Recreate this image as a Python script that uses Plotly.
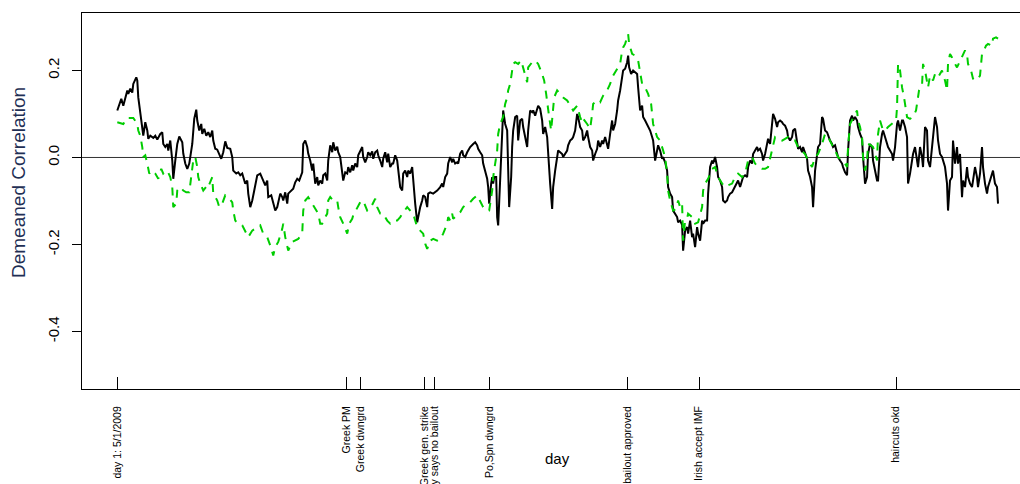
import plotly.graph_objects as go

# Day index (day 1 = 5/1/2009) and demeaned correlation of the two series
black_day = [1, 3, 5, 7, 9, 11, 12, 14, 16, 17, 20, 21, 22, 24, 26, 27, 29, 31, 32, 34,
             37, 39, 41, 44, 46, 47, 49, 51, 52, 54, 56, 57, 59, 61, 63, 66, 67, 69, 71, 73,
             76, 78, 80, 81, 83, 85, 86, 88, 90, 92, 94, 96, 97, 99, 101, 103, 105, 107, 109, 111,
             114, 116, 117, 120, 122, 124, 126, 127, 129, 131, 132, 134, 136, 138, 140, 141, 144, 147, 149, 151,
             152, 155, 157, 159, 161, 163, 164, 166, 167, 169, 171, 172, 175, 177, 179, 181, 183, 184, 186, 187,
             189, 191, 192, 194, 196, 197, 199, 201, 202, 204, 206, 207, 209, 211, 212, 214, 216, 217, 219, 221,
             222, 224, 226, 227, 229, 231, 232, 234, 236, 237, 239, 241, 242, 244, 246, 247, 249, 251, 252, 254,
             256, 257, 259, 261, 262, 264, 266, 267, 269, 271, 272, 274, 276, 277, 279, 281, 282, 284, 286, 287,
             289, 291, 292, 294, 296, 297, 299, 301, 302, 304, 306, 307, 309, 311, 312, 314, 317, 321, 324, 326,
             327, 329, 331, 332, 334, 336, 337, 339, 341, 342, 344, 346, 347, 349, 351, 354, 357, 359, 361, 362,
             364, 366, 367, 369, 371, 372, 373, 375, 376, 377, 378, 380, 381, 382, 383, 385, 386, 387, 389, 391,
             393, 395, 396, 397, 399, 401, 402, 404, 406, 407, 409, 411, 412, 414, 416, 417, 419, 421, 422, 424,
             426, 427, 429, 431, 432, 434, 436, 437, 439, 441, 442, 444, 446, 447, 449, 451, 452, 454, 456, 457,
             459, 461, 462, 464, 466, 467, 469, 471, 472, 474, 476, 477, 479, 481, 482, 484, 486, 487, 489, 491,
             492, 494, 496, 497, 499, 501, 502, 504, 506, 507, 509, 511, 512, 513, 515, 517, 519, 521, 522, 524,
             526, 527, 529, 531, 532, 534, 536, 537, 539, 541, 542, 544, 546, 547, 549, 551, 552, 554, 556, 557,
             559, 561, 562, 564, 566, 567, 569, 571, 572, 574, 576, 577, 579, 581, 582, 584, 586, 587, 589, 591,
             592, 594, 596, 597, 599, 601, 602, 604, 606, 607, 609, 611, 612, 614, 616, 617, 619, 621, 622, 624,
             626, 627, 629, 631, 632, 634, 636, 637, 639, 641, 642, 644, 646, 647, 649, 651, 652, 654, 656, 657,
             659, 661, 662, 664, 666, 667, 669, 671, 672, 674, 676, 677, 679, 681, 682, 684, 686, 687, 689, 691,
             692, 694, 696, 697, 699, 701, 702, 704, 706, 707, 709, 711, 712, 714, 716, 717, 719, 721, 722, 724,
             726, 727, 729, 731, 732, 734, 736, 737, 739, 741, 742, 744, 746, 747, 749, 751, 752, 754, 756, 757,
             759, 761, 762, 764, 766, 767, 769, 771, 772, 774, 776, 777, 779, 781, 782, 784, 786, 787, 789, 791,
             792, 794, 796, 797, 799, 801, 802, 804, 806, 807, 809, 811, 812, 814, 816, 817, 819, 821, 822, 824,
             826, 827, 829, 831, 832, 834, 836, 837, 839, 841, 842, 844, 846, 847, 849, 851, 852, 854, 856, 857,
             859, 861, 862, 864, 866, 867, 869, 871, 872, 874, 876, 877, 879, 881, 882]
black_corr = [0.108, 0.123, 0.135, 0.119, 0.138, 0.154, 0.146, 0.158, 0.149, 0.169, 0.184, 0.177, 0.138, 0.100, 0.070, 0.050, 0.081, 0.062, 0.043, 0.050,
              0.045, 0.050, 0.041, 0.054, 0.058, 0.031, 0.024, 0.031, 0.016, 0.039, -0.007, -0.049, -0.007, 0.031, 0.048, 0.035, 0.009, -0.014, -0.026, -0.014,
              0.031, 0.089, 0.110, 0.085, 0.062, 0.077, 0.054, 0.066, 0.050, 0.058, 0.047, 0.062, 0.039, 0.020, 0.018, 0.005, -0.003, 0.012, 0.037, 0.022,
              0.020, 0.001, -0.030, -0.037, -0.034, -0.041, -0.037, -0.045, -0.060, -0.053, -0.083, -0.114, -0.099, -0.076, -0.057, -0.041, -0.037, -0.053, -0.064, -0.053,
              -0.091, -0.087, -0.106, -0.122, -0.114, -0.091, -0.083, -0.091, -0.099, -0.080, -0.106, -0.083, -0.076, -0.072, -0.057, -0.049, -0.053, -0.045, -0.034, 0.031,
              0.039, 0.024, 0.009, -0.007, -0.030, -0.014, -0.060, -0.045, -0.064, -0.053, -0.060, -0.041, -0.037, -0.053, -0.007, 0.028, 0.012, 0.035, 0.016, 0.025,
              0.012, 0.001, -0.037, -0.053, -0.034, -0.037, -0.022, -0.034, -0.018, -0.030, -0.014, -0.022, 0.005, 0.016, 0.024, 0.001, -0.011, 0.001, 0.012, 0.005,
              0.014, -0.003, 0.012, 0.016, 0.005, -0.007, -0.022, -0.003, 0.012, -0.011, 0.009, -0.022, -0.014, -0.014, 0.005, -0.007, -0.030, -0.068, -0.076, -0.037,
              -0.030, -0.045, -0.030, -0.037, -0.022, -0.053, -0.106, -0.149, -0.137, -0.114, -0.099, -0.087, -0.091, -0.114, -0.083, -0.080, -0.083, -0.076, -0.068, -0.060,
              -0.068, -0.045, -0.037, -0.014, 0.001, -0.011, -0.003, -0.014, -0.011, -0.014, 0.009, 0.016, 0.005, 0.001, 0.012, 0.024, 0.031, 0.035, 0.028, 0.020,
              0.012, 0.005, -0.014, -0.030, -0.049, -0.068, -0.106, -0.060, -0.045, -0.060, -0.045, -0.045, -0.137, -0.156, -0.106, -0.014, 0.062, 0.108, 0.077, 0.062,
              -0.114, -0.045, 0.024, 0.062, 0.093, 0.096, 0.039, 0.085, 0.089, 0.070, 0.047, 0.024, 0.062, 0.108, 0.104, 0.108, 0.096, 0.112, 0.119, 0.112,
              0.085, 0.054, 0.070, 0.047, 0.001, -0.060, -0.118, -0.068, -0.030, 0.001, 0.016, 0.012, 0.008, 0.001, 0.008, 0.016, 0.028, 0.039, 0.043, 0.047,
              0.062, 0.100, 0.093, 0.070, 0.062, 0.039, 0.047, 0.062, 0.047, 0.024, 0.016, -0.007, 0.008, 0.020, 0.039, 0.024, 0.039, 0.031, 0.047, 0.031,
              0.020, 0.054, 0.085, 0.062, 0.077, 0.108, 0.131, 0.154, 0.184, 0.200, 0.204, 0.219, 0.234, 0.207, 0.192, 0.200, 0.196, 0.192, 0.161, 0.108,
              0.119, 0.093, 0.085, 0.077, 0.070, 0.062, 0.047, 0.039, -0.007, 0.016, 0.028, 0.016, -0.003, 0.001, -0.011, -0.030, -0.068, -0.083, -0.091, -0.122,
              -0.129, -0.137, -0.149, -0.145, -0.155, -0.214, -0.168, -0.160, -0.175, -0.145, -0.183, -0.175, -0.206, -0.160, -0.175, -0.191, -0.145, -0.152, -0.145, -0.145,
              -0.083, -0.022, -0.007, -0.014, 0.001, -0.022, -0.045, -0.053, -0.068, -0.099, -0.103, -0.099, -0.091, -0.083, -0.080, -0.076, -0.068, -0.060, -0.053, -0.068,
              -0.053, -0.045, -0.041, -0.045, -0.022, -0.007, -0.014, 0.008, 0.016, 0.024, 0.016, 0.020, 0.008, -0.007, 0.008, 0.039, 0.043, 0.031, 0.070, 0.100,
              0.089, 0.070, 0.081, 0.085, 0.081, 0.077, 0.073, 0.062, 0.047, 0.039, 0.047, 0.062, 0.066, 0.035, 0.020, 0.024, 0.012, 0.024, 0.008, -0.003,
              -0.030, -0.045, -0.068, -0.114, -0.030, 0.012, 0.024, 0.031, 0.093, 0.089, 0.062, 0.058, 0.050, 0.039, 0.031, 0.024, 0.028, 0.008, 0.001, -0.007,
              -0.014, -0.022, -0.034, -0.041, 0.016, 0.085, 0.096, 0.085, 0.093, 0.085, 0.070, 0.054, 0.043, 0.001, -0.060, -0.045, 0.008, 0.031, 0.024, -0.007,
              -0.030, -0.053, -0.053, 0.024, 0.054, 0.062, 0.047, 0.031, 0.024, 0.016, 0.008, -0.007, 0.024, 0.077, 0.085, 0.062, 0.085, 0.085, 0.070, 0.047,
              -0.060, -0.037, -0.007, 0.008, 0.024, -0.007, -0.022, 0.024, 0.001, -0.022, 0.070, 0.062, -0.007, -0.022, 0.016, 0.047, 0.093, 0.070, 0.039, 0.008,
              0.001, -0.007, -0.022, -0.060, -0.122, -0.053, -0.045, 0.039, -0.014, 0.024, -0.014, 0.008, -0.091, -0.053, -0.068, -0.022, -0.045, -0.060, -0.068, -0.053,
              -0.022, -0.045, -0.068, -0.037, 0.024, -0.022, -0.060, -0.083, -0.068, -0.053, -0.037, -0.030, -0.060, -0.068, -0.106]

green_day = [1, 7, 11, 17, 21, 22, 24, 26, 27, 29, 31, 33, 36, 39, 42, 45, 47, 51, 54, 56,
             57, 60, 61, 64, 67, 70, 73, 76, 77, 79, 81, 82, 84, 87, 91, 92, 96, 97, 101, 103,
             106, 109, 112, 116, 117, 119, 122, 126, 129, 132, 136, 139, 144, 147, 151, 154, 157, 159, 162, 166,
             167, 169, 172, 176, 179, 182, 186, 187, 189, 192, 196, 199, 202, 204, 206, 209, 211, 212, 214, 217,
             221, 222, 224, 227, 231, 233, 236, 237, 241, 244, 247, 251, 254, 257, 259, 261, 264, 267, 271, 274,
             277, 281, 284, 287, 291, 294, 297, 299, 301, 304, 307, 309, 311, 314, 317, 321, 324, 327, 331, 332,
             334, 336, 337, 341, 344, 347, 351, 354, 357, 361, 364, 367, 371, 373, 376, 377, 379, 381, 382, 384,
             387, 389, 391, 392, 394, 396, 397, 399, 402, 405, 407, 409, 411, 412, 416, 419, 422, 426, 428, 430,
             431, 433, 435, 437, 438, 441, 444, 447, 451, 454, 457, 461, 462, 464, 466, 467, 471, 474, 476, 477,
             481, 484, 487, 491, 494, 496, 499, 502, 504, 506, 507, 509, 511, 512, 513, 516, 519, 522, 526, 529,
             532, 535, 537, 541, 544, 547, 549, 551, 552, 554, 557, 560, 562, 564, 566, 567, 569, 571, 572, 576,
             579, 582, 586, 587, 589, 592, 596, 599, 602, 606, 609, 612, 616, 619, 622, 626, 629, 632, 636, 639,
             642, 646, 649, 652, 655, 657, 659, 662, 666, 669, 672, 676, 679, 682, 686, 689, 692, 696, 699, 702,
             706, 709, 712, 716, 719, 722, 726, 729, 731, 732, 734, 736, 738, 741, 742, 744, 746, 747, 749, 751,
             752, 755, 757, 759, 761, 762, 764, 767, 769, 772, 776, 780, 781, 782, 784, 786, 788, 790, 791, 794,
             797, 800, 801, 803, 806, 807, 809, 811, 812, 814, 817, 819, 822, 826, 827, 829, 831, 832, 834, 836,
             838, 841, 844, 847, 849, 851, 852, 855, 857, 859, 862, 864, 865, 866, 868, 870, 872, 876, 877, 880,
             882]
green_corr = [0.081, 0.077, 0.091, 0.091, 0.077, 0.062, 0.050, 0.024, 0.001, 0.005, -0.014, -0.037, -0.030, -0.037, -0.049, -0.026, -0.037, -0.030, -0.045, -0.068,
              -0.114, -0.106, -0.076, -0.068, -0.076, -0.080, -0.080, -0.030, -0.007, 0.001, -0.022, -0.045, -0.060, -0.076, -0.064, -0.068, -0.045, -0.083, -0.099, -0.114,
              -0.106, -0.087, -0.091, -0.103, -0.122, -0.145, -0.152, -0.156, -0.168, -0.183, -0.168, -0.164, -0.156, -0.175, -0.183, -0.202, -0.225, -0.206, -0.194, -0.164,
              -0.152, -0.183, -0.214, -0.194, -0.191, -0.187, -0.175, -0.122, -0.099, -0.091, -0.106, -0.118, -0.129, -0.152, -0.152, -0.137, -0.129, -0.099, -0.091, -0.099,
              -0.099, -0.114, -0.137, -0.152, -0.175, -0.152, -0.141, -0.133, -0.114, -0.103, -0.099, -0.122, -0.118, -0.106, -0.095, -0.114, -0.129, -0.129, -0.145, -0.152,
              -0.145, -0.145, -0.137, -0.126, -0.114, -0.122, -0.129, -0.145, -0.160, -0.168, -0.175, -0.198, -0.210, -0.191, -0.187, -0.191, -0.187, -0.175, -0.152, -0.137,
              -0.145, -0.129, -0.141, -0.133, -0.126, -0.114, -0.106, -0.103, -0.095, -0.087, -0.099, -0.114, -0.122, -0.122, -0.076, -0.045, -0.014, 0.016, 0.054, 0.077,
              0.093, 0.123, 0.138, 0.154, 0.169, 0.200, 0.215, 0.219, 0.215, 0.223, 0.207, 0.192, 0.173, 0.207, 0.219, 0.223, 0.215, 0.192, 0.177, 0.146,
              0.123, 0.093, 0.062, 0.108, 0.138, 0.154, 0.146, 0.138, 0.131, 0.119, 0.108, 0.119, 0.108, 0.093, 0.081, 0.089, 0.077, 0.066, 0.100, 0.123,
              0.131, 0.127, 0.142, 0.154, 0.169, 0.184, 0.196, 0.207, 0.215, 0.246, 0.253, 0.261, 0.276, 0.284, 0.261, 0.238, 0.234, 0.223, 0.169, 0.161,
              0.146, 0.123, 0.077, 0.047, 0.039, 0.016, 0.001, -0.037, -0.076, -0.099, -0.122, -0.118, -0.099, -0.114, -0.106, -0.191, -0.145, -0.140, -0.129, -0.137,
              -0.152, -0.149, -0.114, -0.076, -0.060, -0.049, -0.026, -0.022, -0.045, -0.060, -0.068, -0.064, -0.060, -0.045, -0.037, -0.045, -0.037, -0.007, 0.001, -0.014,
              -0.022, -0.026, -0.026, -0.022, 0.008, 0.031, 0.047, 0.043, 0.039, 0.043, 0.047, 0.039, 0.039, 0.024, 0.016, 0.008, -0.007, -0.022, 0.001, 0.008,
              0.031, 0.054, 0.047, 0.031, 0.016, 0.001, -0.007, -0.014, -0.022, 0.024, 0.077, 0.085, 0.096, 0.108, 0.085, 0.070, 0.047, 0.001, -0.030, -0.007,
              0.031, 0.028, 0.024, 0.008, -0.007, 0.054, 0.085, 0.062, 0.062, 0.070, 0.077, 0.085, 0.115, 0.215, 0.200, 0.161, 0.138, 0.108, 0.093, 0.089,
              0.093, 0.108, 0.123, 0.154, 0.165, 0.215, 0.200, 0.177, 0.161, 0.188, 0.177, 0.192, 0.184, 0.200, 0.188, 0.177, 0.154, 0.215, 0.238, 0.230,
              0.219, 0.207, 0.223, 0.238, 0.246, 0.238, 0.215, 0.200, 0.181, 0.177, 0.181, 0.188, 0.215, 0.238, 0.246, 0.257, 0.261, 0.257, 0.273, 0.276,
              0.273]

# Event markers along the day axis
event_day = [1, 230, 244, 308, 318, 373, 511, 583, 780]
event_label = ["day 1: 5/1/2009", "Greek PM", "Greek dwngrd", "Greek gen. strike",
               "Germany says no bailout", "Po,Spn dwngrd", "Greek bailout approved",
               "Irish accept IMF", "haircuts okd"]

y_ticks = [-0.4, -0.2, 0.0, 0.2]
y_tick_text = ["-0.4", "-0.2", "0.0", "0.2"]

FONT = "Liberation Sans, Arial, sans-serif"

fig = go.Figure()
fig.add_trace(go.Scatter(
    x=black_day, y=black_corr, mode="lines",
    line=dict(color="#000000", width=2),
    showlegend=False, hoverinfo="skip"))
fig.add_trace(go.Scatter(
    x=green_day, y=green_corr, mode="lines",
    line=dict(color="#00CD00", width=2, dash="8px,7px"),
    showlegend=False, hoverinfo="skip"))

# horizontal reference line at zero
fig.add_shape(type="line", xref="paper", yref="y", x0=0, x1=1, y0=0, y1=0,
              line=dict(color="#333333", width=1), layer="below")

fig.update_layout(
    width=1020, height=484,
    margin=dict(l=82, r=0, t=13, b=95, pad=0),
    paper_bgcolor="white", plot_bgcolor="white",
    font=dict(family=FONT, color="#000000"),
    xaxis=dict(
        range=[-34.3, 904], showgrid=False, zeroline=False, automargin=False,
        showline=True, linecolor="#000000", linewidth=1, mirror=True,
        ticks="inside", ticklen=12, tickwidth=1, tickcolor="#000000",
        tickmode="array", tickvals=event_day, ticktext=event_label,
        tickangle=-90, tickfont=dict(size=10.5, family=FONT, color="#000000"),
        ticklabelstandoff=12,
    ),
    yaxis=dict(
        range=[-0.532, 0.332], showgrid=False, zeroline=False, automargin=False,
        showline=True, linecolor="#000000", linewidth=1, mirror=False,
        ticks="outside", ticklen=9, tickwidth=1, tickcolor="#000000",
        tickmode="array", tickvals=y_ticks, ticktext=y_tick_text,
        tickangle=-90, tickfont=dict(size=15, family=FONT, color="#000000"),
        ticklabelstandoff=7,
    ),
    annotations=[
        dict(text="day", xref="paper", yref="paper", x=(557 - 82) / 938, y=-69 / 376,
             xanchor="center", yanchor="middle", showarrow=False,
             font=dict(size=15, family=FONT, color="#000000")),
        dict(text="Demeaned Correlation", xref="paper", yref="paper",
             x=-64 / 938, y=(389 - 183) / 376, textangle=-90,
             xanchor="center", yanchor="middle", showarrow=False,
             font=dict(size=19, family=FONT, color="#1F2F55")),
    ],
)

fig.write_html("out.html")
